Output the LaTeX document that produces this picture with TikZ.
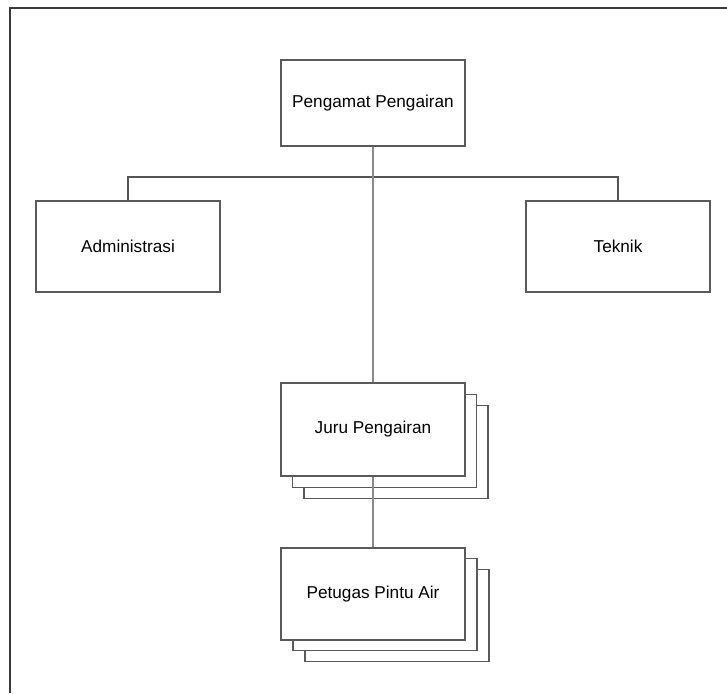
\documentclass[tikz,border=0pt]{standalone}
\usepackage{fontspec}
\setmainfont{Liberation Sans}
\definecolor{framegray}{HTML}{3A3A3A}
\definecolor{boxgray}{HTML}{5A5A5A}
\definecolor{linkgray}{HTML}{8A8A8A}
\definecolor{branchgray}{HTML}{555555}
\begin{document}
\begin{tikzpicture}[x=1pt, y=-1pt,
  orgbox/.style={draw=boxgray, line width=1.1pt, fill=white, inner sep=0pt,
    minimum width=184pt, minimum height=88pt,
    font=\fontsize{17.2}{20}\selectfont},
  layerbox/.style={orgbox, font=\fontsize{1}{1}\selectfont},
  link/.style={draw=linkgray, line width=1.1pt},
  branch/.style={draw=branchgray, line width=1.1pt}]
  \useasboundingbox (0,0) rectangle (727,693);

  % outer frame: top and left edges only
  \draw[framegray, line width=2pt] (10,693) -- (10,8) -- (727,8);

  % top level
  \node[orgbox, minimum height=86pt] (pengamat) at (373,103) {Pengamat Pengairan};

  % staff units
  \node[orgbox, minimum height=91pt] (admin) at (128,246.5) {Administrasi};
  \node[orgbox, minimum height=91pt] (teknik) at (618,246.5) {Teknik};

  % stacked boxes for Juru Pengairan
  \node[layerbox, minimum height=93pt] (juru3) at (396,452) {};
  \node[layerbox, minimum height=93pt] (juru2) at (384.5,441) {};
  \node[orgbox, minimum height=93pt] (juru) at (373,429.5) {Juru Pengairan};

  % stacked boxes for Petugas Pintu Air
  \node[layerbox, minimum height=92pt] (petugas3) at (397,615.5) {};
  \node[layerbox, minimum height=92pt] (petugas2) at (385,604.5) {};
  \node[orgbox, minimum height=92pt] (petugas) at (373,594) {Petugas Pintu Air};

  % connectors
  \coordinate (bar) at (373,177);
  \draw[branch] (admin.north) |- (bar) -| (teknik.north);
  \draw[link] (pengamat.south) -- (juru.north);
  \draw[link] (juru.south) -- (petugas.north);
\end{tikzpicture}
\end{document}
